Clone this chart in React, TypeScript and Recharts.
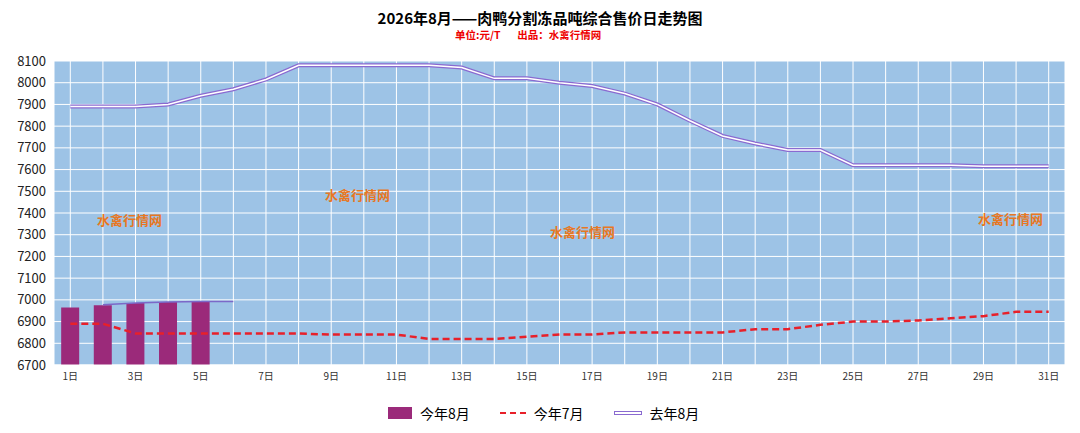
import React from 'react';
import { ComposedChart, Bar, Line, XAxis, YAxis, CartesianGrid } from 'recharts';

const days = Array.from({ length: 31 }, (_, i) => `${i + 1}日`);
const thisAug = [6965, 6975, 6985, 6990, 6993];
const trendAug = [null, 6978, 6985, 6990, 6993, 6993];
const thisJul = [6890, 6890, 6845, 6845, 6845, 6845, 6845, 6845, 6840, 6840, 6840, 6820, 6820, 6820, 6830, 6840, 6840, 6850, 6850, 6850, 6850, 6865, 6865, 6885, 6900, 6900, 6905, 6915, 6925, 6945, 6945];
const lastAug = [7890, 7890, 7890, 7900, 7940, 7970, 8015, 8080, 8080, 8080, 8080, 8080, 8070, 8020, 8020, 8000, 7985, 7950, 7900, 7825, 7755, 7720, 7690, 7690, 7620, 7620, 7620, 7620, 7615, 7615, 7615];
const yTicks = Array.from({ length: 15 }, (_, i) => 6700 + i * 100);

const data = days.map((d, i) => ({
  day: d,
  thisAug: thisAug[i] ?? null,
  trend: trendAug[i] ?? null,
  thisJul: thisJul[i],
  lastAug: lastAug[i],
}));

// label every second day, but keep a tick (and so a grid line) on every day
const dayLabel = (v: string, i: number) => (i % 2 === 0 ? v : '');

const mark = (x: number, y: number) => (
  <div style={{ position: 'absolute', left: x, top: y, color: '#e87722', fontWeight: 'bold', fontSize: 13, fontFamily: 'Noto Sans CJK SC' }}>水禽行情网</div>
);

export default function App() {
  return (
    <div style={{ position: 'relative', width: 1080, height: 433, margin: -8, background: '#fff', fontFamily: 'Noto Sans CJK SC' }}>
      <div style={{ position: 'absolute', top: 7, width: 1080, textAlign: 'center', fontWeight: 'bold', fontSize: 15 }}>2026年8月——肉鸭分割冻品吨综合售价日走势图</div>
      <div style={{ position: 'absolute', top: 27, left: 455, color: '#e00', fontWeight: 'bold', fontSize: 10.5 }}>单位:元/T&nbsp;&nbsp;&nbsp;&nbsp;&nbsp;&nbsp;&nbsp;出品：水禽行情网</div>
      <ComposedChart width={1080} height={395} data={data} margin={{ top: 61, right: 15, left: -6, bottom: 0 }} barCategoryGap="22%">
        <CartesianGrid stroke="#fff" fill="#9dc3e6" strokeWidth={1} />
        <XAxis dataKey="day" interval={0} tickFormatter={dayLabel} tickLine={false} axisLine={{ stroke: '#fff' }} tick={{ fontSize: 10, fill: '#333' }} />
        <YAxis domain={[6700, 8100]} ticks={yTicks} interval={0} tickLine={false} axisLine={false} tick={{ fontSize: 13, fill: '#222' }} />
        <Bar dataKey="thisAug" fill="#9b2a7a" isAnimationActive={false} />
        <Line dataKey="trend" stroke="#7b68c8" strokeWidth={1.5} dot={false} isAnimationActive={false} connectNulls />
        <Line dataKey="thisJul" stroke="#e8202a" strokeWidth={2.5} strokeDasharray="7 4" dot={false} isAnimationActive={false} />
        <Line dataKey="lastAug" stroke="#8a6ad0" strokeWidth={4} dot={false} isAnimationActive={false} />
        <Line dataKey="lastAug" stroke="#fff" strokeWidth={1.5} dot={false} isAnimationActive={false} />
      </ComposedChart>
      {mark(97, 210)}
      {mark(325, 185)}
      {mark(550, 222)}
      {mark(978, 209)}
      <div style={{ position: 'absolute', top: 403, left: 388, display: 'flex', alignItems: 'center', fontSize: 14, gap: 8 }}>
        <span style={{ width: 24, height: 12, background: '#9b2a7a', display: 'inline-block' }} />
        <span style={{ marginRight: 22 }}>今年8月</span>
        <span style={{ width: 26, borderTop: '2.5px dashed #e8202a', display: 'inline-block' }} />
        <span style={{ marginRight: 22 }}>今年7月</span>
        <span style={{ width: 26, height: 2, border: '1.5px solid #8a6ad0', background: '#fff', display: 'inline-block' }} />
        <span>去年8月</span>
      </div>
    </div>
  );
}
